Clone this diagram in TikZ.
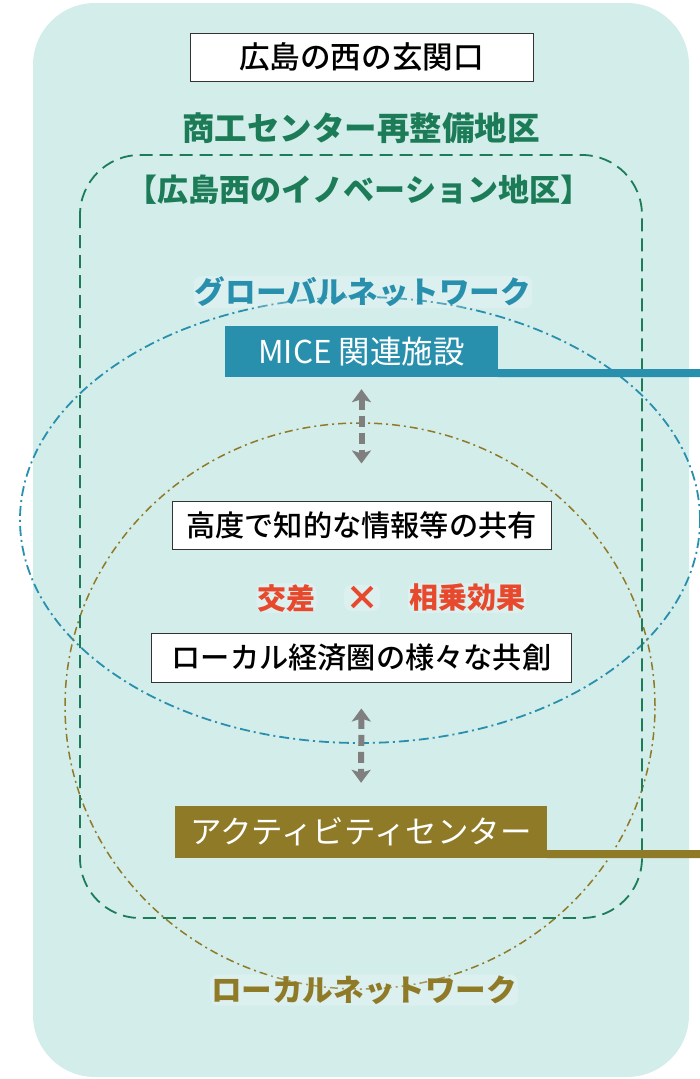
\documentclass[tikz,border=0pt]{standalone}
\usepackage{fontspec}
\setmainfont{Noto Sans CJK JP}
\newfontfamily\jpmed{Noto Sans CJK JP Medium}
\usetikzlibrary{positioning, arrows.meta}
\definecolor{bgteal}{HTML}{D3EDEB}
\definecolor{zonegreen}{HTML}{1C7C57}
\definecolor{globblue}{HTML}{2890AD}
\definecolor{localolive}{HTML}{8F7A28}
\definecolor{synred}{HTML}{E8482C}
\definecolor{arrowgray}{HTML}{7F7F7F}
\tikzset{
    >=Stealth,
    every node/.style={rounded corners=2pt}
}

\begin{document}
\begin{tikzpicture}[
    x=1pt, y=-1pt,
    infobox/.style={draw=black!80, fill=white, line width=1pt, rounded corners=0pt, inner sep=0pt, font=\jpmed\fontsize{29.2}{30}\selectfont},
    facbox/.style={rounded corners=0pt, inner sep=0pt, text=white, font=\fontsize{31.5}{33}\selectfont},
    glow/.style={fill=white, fill opacity=0.22, text opacity=1, rounded corners=8pt, inner sep=1pt},
    zonetitle/.style={text=zonegreen, font=\bfseries\fontsize{31}{33}\selectfont},
    netlabel/.style={glow, font=\bfseries\fontsize{30.6}{32}\selectfont},
    synlabel/.style={glow, text=synred, font=\bfseries\fontsize{29}{30}\selectfont},
    tieline/.style={line width=8pt},
    netring/.style={line width=1.8pt, dash pattern=on 10pt off 4pt on 2pt off 4pt},
    dblarrow/.style={<->, arrowgray, line width=6pt, dash pattern=on 11pt off 6pt,
        >={Stealth[length=13pt,width=19pt,inset=3pt]}}
]
\useasboundingbox (0,0) rectangle (700,1079);
\fill[bgteal, rounded corners=62pt] (33,3) rectangle (689,1077);

% network rings and district zone
\draw[netring, globblue] (360,520) ellipse [x radius=340pt, y radius=223pt];
\draw[netring, localolive, line width=1.5pt, dash pattern=on 8pt off 4pt on 2pt off 4pt] (360,706) ellipse [x radius=295pt, y radius=283pt];
\draw[zonegreen, line width=1.8pt, dash pattern=on 13pt off 7pt, rounded corners=60pt] (80,155) rectangle (642,918);

\node[infobox, minimum width=343pt, minimum height=48pt, font=\jpmed\fontsize{30.6}{32}\selectfont] (gate) at (361.5,57) {広島の西の玄関口};
\node[zonetitle, font=\bfseries\fontsize{32.5}{34}\selectfont] (area) at (361,128) {商工センター再整備地区};
\node[zonetitle] (innov) at (359,190) {【広島西のイノベーション地区】};

\node[netlabel, text=globblue] (global) at (363,292) {グローバルネットワーク};
\node[facbox, fill=globblue, minimum width=273pt, minimum height=51pt] (mice) at (361.5,351.5) {MICE 関連施設};

\node[infobox, minimum width=379pt, minimum height=48pt] (share) at (361.5,525) {高度で知的な情報等の共有};
\node[synlabel] (cross) at (286.5,598) {交差};
\node[synlabel, font=\bfseries\fontsize{34}{34}\selectfont] (times) at (362,598) {×};
\node[synlabel] (synergy) at (467,598) {相乗効果};
\node[infobox, minimum width=420pt, minimum height=49pt] (cocreate) at (361.5,657.5) {ローカル経済圏の様々な共創};

\node[facbox, fill=localolive, minimum width=372pt, minimum height=52pt] (activity) at (361,832) {アクティビティセンター};
\node[netlabel, text=localolive] (local) at (364,990) {ローカルネットワーク};

% Lines to the right
\coordinate (miceend) at (700,373);
\coordinate (actend) at (700,854);
\draw[tieline, globblue] ([yshift=4pt]mice.south east) -- (miceend);
\draw[tieline, localolive] ([yshift=4pt]activity.south east) -- (actend);

% Arrows
\draw[dblarrow, shorten <=12pt, shorten >=37pt] (mice.south) -- (share.north);
\draw[dblarrow, shorten <=26pt, shorten >=23pt] (cocreate.south) -- (activity.north);

\end{tikzpicture}
\end{document}
